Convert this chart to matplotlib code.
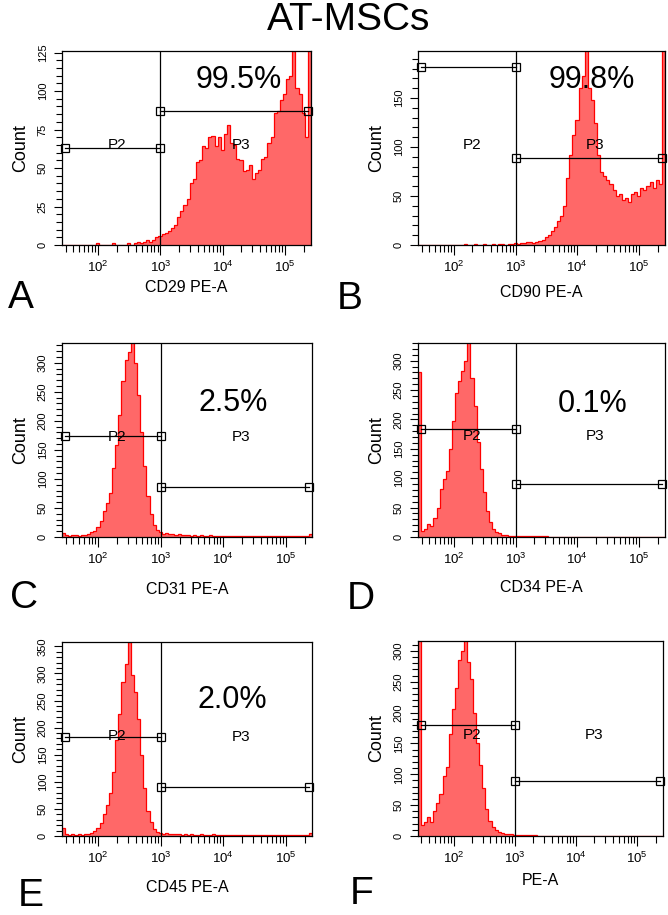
import numpy as np
import matplotlib.pyplot as plt
from matplotlib.ticker import LogLocator, MultipleLocator, NullFormatter

plt.rcParams['font.family'] = ['Liberation Sans', 'DejaVu Sans']
plt.rcParams['mathtext.default'] = 'regular'

W, H = 668, 915

# channel grid: log10(PE-A) from 10^1.42 to 10^5.42, 80 bins
log_lo, log_hi, n_bins = 1.42, 5.42, 80

counts_cd29 = [0, 0, 0, 0, 0, 0, 0, 0, 0, 0, 0, 1, 0, 0, 0, 0, 1, 0, 0, 0,
               0, 1, 0, 1, 2, 1, 2, 3, 2, 3,
               5, 6, 7, 8, 9, 11, 13, 18, 22, 26,
               30, 40, 43, 54, 55, 64, 63, 70, 71, 64,
               70, 62, 72, 78, 66, 65, 56, 55, 48, 49,
               52, 43, 47, 49, 56, 57, 66, 70, 86, 87,
               94, 98, 108, 110, 126, 102, 98, 86, 70, 140]
counts_cd90 = [0, 0, 0, 0, 0, 0, 0, 0, 0, 0, 0, 0, 0, 0, 0, 1, 0, 0, 1, 0,
               0, 1, 0, 0, 1, 0, 1, 1, 0, 1,
               1, 2, 1, 2, 2, 3, 3, 2, 3, 4,
               5, 8, 10, 14, 18, 24, 30, 40, 68, 92,
               112, 128, 160, 172, 205, 160, 148, 125, 92, 74,
               70, 66, 62, 56, 50, 52, 46, 48, 44, 52,
               54, 50, 58, 56, 60, 64, 58, 66, 62, 200]
counts_cd31 = [7, 3, 2, 3, 3, 2, 4, 3, 5, 8,
               11, 18, 28, 44, 58, 76, 118, 158, 210, 268,
               305, 318, 335, 300, 245, 180, 122, 70, 40, 20,
               12, 8, 6, 7, 5, 6, 4, 5, 4, 3,
               3, 2, 3, 2, 3, 2, 2, 3, 2, 2,
               2, 1, 2, 2, 1, 2, 1, 2, 1, 2,
               1, 2, 1, 1, 2, 1, 1, 2, 1, 1,
               2, 1, 1, 2, 1, 1, 1, 2, 1, 6]
counts_cd34 = [280, 10, 14, 22, 18, 32, 50, 82, 98, 112,
               150, 198, 245, 265, 282, 300, 335, 270, 222, 162,
               115, 76, 45, 26, 14, 8, 6, 4, 3, 2,
               2, 1, 2, 1, 2, 1, 1, 2, 1, 1,
               1, 1, 0, 0, 0, 0, 0, 0, 0, 0,
               0, 0, 0, 0, 0, 0, 0, 0, 0, 0,
               0, 0, 0, 0, 0, 0, 0, 0, 0, 0,
               0, 0, 0, 0, 0, 0, 0, 0, 0, 0]
counts_cd45 = [14, 3, 2, 3, 2, 3, 2, 4, 3, 5,
               10, 15, 24, 40, 58, 80, 118, 178, 226, 285,
               318, 358, 298, 265, 215, 150, 88, 46, 26, 13,
               7, 5, 4, 5, 3, 4, 3, 3, 2, 3,
               2, 3, 2, 2, 3, 2, 2, 2, 3, 2,
               2, 2, 1, 2, 2, 1, 2, 2, 1, 2,
               1, 2, 2, 1, 2, 1, 2, 1, 2, 1,
               2, 1, 2, 1, 2, 1, 1, 2, 1, 5]
counts_iso = [330, 18, 22, 30, 22, 40, 54, 68, 98, 112,
              165, 205, 240, 285, 300, 330, 282, 255, 200, 150,
              115, 78, 44, 25, 14, 10, 7, 5, 4, 4,
              3, 2, 2, 2, 1, 2, 1, 1, 1, 0,
              0, 0, 0, 0, 0, 0, 0, 0, 0, 0,
              0, 0, 0, 0, 0, 0, 0, 0, 0, 0,
              0, 0, 0, 0, 0, 0, 0, 0, 0, 0,
              0, 0, 0, 0, 0, 0, 0, 0, 0, 0]

all_counts = [counts_cd29, counts_cd90, counts_cd31, counts_cd34, counts_cd45, counts_iso]
x_labels = ["CD29 PE-A", "CD90 PE-A", "CD31 PE-A", "CD34 PE-A", "CD45 PE-A", "PE-A"]
pct_text = ["99.5%", "99.8%", "2.5%", "0.1%", "2.0%", ""]
panel_letters = ["A", "B", "C", "D", "E", "F"]
y_top = [126, 198, 334, 330, 358, 316]
y_step = [25, 50, 50, 50, 50, 50]
y_minor = [5, 10, 10, 10, 10, 10]
gate_p2 = [63, 182, 174, 184, 182, 180]
gate_p3 = [87, 89, 86, 90, 90, 89]
gate_split = 1000
gate_lo, gate_hi = 29, 236000

# layout in reference pixels
boxes = [(62, 51, 311, 245), (418, 51, 665, 245),
         (62, 343, 312, 537), (418, 343, 665, 537),
         (62, 642, 312, 836), (418, 641, 663, 836)]
# left edge and baseline of the panel letters
letter_pos = [(8, 308), (337, 309), (10, 608), (347, 609), (18, 906), (350, 904)]
xlabel_top = [280, 285, 582, 580, 880, 873]
# (log x, y) of percentage, y of P2/P3 labels
pct_pos = [(4.26, 107), (4.24, 168), (4.156, 231), (4.24, 227), (4.145, 251), (4.2, 0)]
p2_y = [65, 102, 172, 172, 185, 163]
p3_y = [65, 102, 172, 172, 182, 163]

edges = np.logspace(log_lo, log_hi, n_bins + 1)

fig = plt.figure(figsize=(W / 100, H / 100), dpi=100)
fig.text(349 / W, 1 - 30 / H, "AT-MSCs", ha="center", va="baseline", fontsize=28)

for i in range(6):
    l, t, r, b = boxes[i]
    ax = fig.add_axes([l / W, 1 - b / H, (r - l) / W, (b - t) / H])
    counts = np.array(all_counts[i], dtype=float)

    ax.stairs(counts, edges, fill=True, color="#ff6868", zorder=1)
    ax.stairs(counts, edges, color="#ff0000", lw=0.9, zorder=2)

    ax.set_xscale("log")
    ax.set_xlim(10 ** log_lo, 10 ** log_hi)
    ax.set_ylim(0, y_top[i])

    # gates
    ax.axvline(gate_split, color="black", lw=0.9, zorder=3)
    ax.plot([gate_lo, gate_split], [gate_p2[i]] * 2, color="black", lw=0.9,
            marker="s", ms=5.5, mfc="none", mec="black", mew=0.9, zorder=4, clip_on=False)
    ax.plot([gate_split, gate_hi], [gate_p3[i]] * 2, color="black", lw=0.9,
            marker="s", ms=5.5, mfc="none", mec="black", mew=0.9, zorder=4, clip_on=False)
    ax.text(10 ** 2.30, p2_y[i], "P2", ha="center", va="center", fontsize=11, zorder=5)
    ax.text(10 ** 4.29, p3_y[i], "P3", ha="center", va="center", fontsize=11, zorder=5)
    if pct_text[i]:
        px, py = pct_pos[i]
        ax.text(10 ** px, py, pct_text[i], ha="center", va="center", fontsize=22, zorder=5)

    # axes styling
    for side in ["top", "right", "bottom", "left"]:
        ax.spines[side].set_linewidth(0.9)
    ax.xaxis.set_major_locator(LogLocator(base=10, numticks=10))
    ax.xaxis.set_minor_locator(LogLocator(base=10, subs=np.arange(2, 10), numticks=10))
    ax.xaxis.set_minor_formatter(NullFormatter())
    ax.yaxis.set_major_locator(MultipleLocator(y_step[i]))
    ax.yaxis.set_minor_locator(MultipleLocator(y_minor[i]))
    ax.tick_params(axis="x", which="major", direction="out", length=7, width=0.8,
                   pad=3.5, labelsize=9.5)
    ax.tick_params(axis="x", which="minor", direction="out", length=5, width=0.8)
    ax.tick_params(axis="y", which="major", direction="out", length=5.8, width=0.8,
                   pad=4.5, labelsize=8)
    ax.tick_params(axis="y", which="minor", direction="out", length=4.3, width=0.8)
    for lab in ax.get_yticklabels():
        lab.set_rotation(90)
        lab.set_va("center")

    ax.set_ylabel("Count", fontsize=13)
    ax.yaxis.set_label_coords(-33 / (r - l), 0.5)
    ax.set_xlabel(x_labels[i], fontsize=11.5)
    ax.xaxis.set_label_coords(0.5, -(xlabel_top[i] - b) / (b - t))
    ax.xaxis.label.set_va("top")

    lx, ly = letter_pos[i]
    fig.text(lx / W, 1 - ly / H, panel_letters[i], ha="left", va="baseline", fontsize=28)

fig.savefig("out.png", dpi=100)
